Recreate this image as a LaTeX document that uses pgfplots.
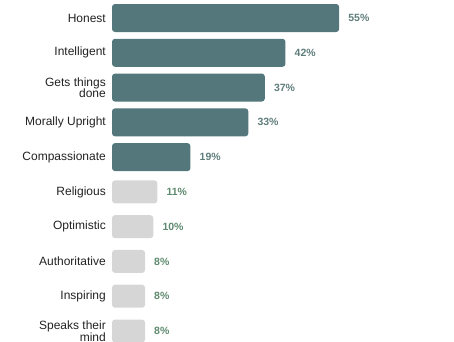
\documentclass[border=0pt]{standalone}
\usepackage{pgfplots}
\pgfplotsset{compat=1.18}
\usepackage{fontspec}
\setmainfont{Liberation Sans}
\definecolor{teal1}{HTML}{53777B}
\definecolor{gray1}{HTML}{D6D6D6}
\definecolor{lab1}{HTML}{5F7D7B}
\definecolor{lab2}{HTML}{5E8A6E}
\definecolor{txt}{HTML}{222222}
\begin{document}
\begin{tikzpicture}[x=1pt,y=1pt]
\useasboundingbox (0,0) rectangle (454,341);
\clip (0,0) rectangle (454,341);
\begin{axis}[
  at={(112pt,0pt)}, anchor=south west,
  scale only axis, width=342pt, height=341pt,
  xbar, bar shift=0pt,
  xmin=0, xmax=82.8,
  ymin=-0.5175, ymax=9.2875, y dir=reverse,
  axis line style={draw=none},
  xtick=\empty,
  ytick={0,...,9},
  yticklabels={Honest,Intelligent,{Gets things\\done},Morally Upright,Compassionate,Religious,Optimistic,Authoritative,Inspiring,{Speaks their\\mind}},
  yticklabel style={font=\fontsize{12}{11.5}\selectfont, text=txt, align=right, inner sep=0pt, xshift=-6pt},
  major tick length=0pt,
  /pgf/number format/assume math mode=true,
  nodes near coords={\pgfmathprintnumber{\pgfplotspointmeta}\%},
  point meta=x,
  nodes near coords style={font=\fontsize{10.5}{10.5}\selectfont\bfseries, anchor=west, inner sep=0pt, xshift=9pt},
  clip=false,
]
\addplot[fill=teal1, draw=none, bar width=28pt, rounded corners=3pt, nodes near coords style={text=lab1}]
  coordinates {(55,0) (42,1) (37,2) (33,3) (19,4)};
\addplot[fill=gray1, draw=none, bar width=23pt, rounded corners=3pt, nodes near coords style={text=lab2}]
  coordinates {(11,5) (10,6) (8,7) (8,8) (8,9)};
\end{axis}
\end{tikzpicture}
\end{document}
